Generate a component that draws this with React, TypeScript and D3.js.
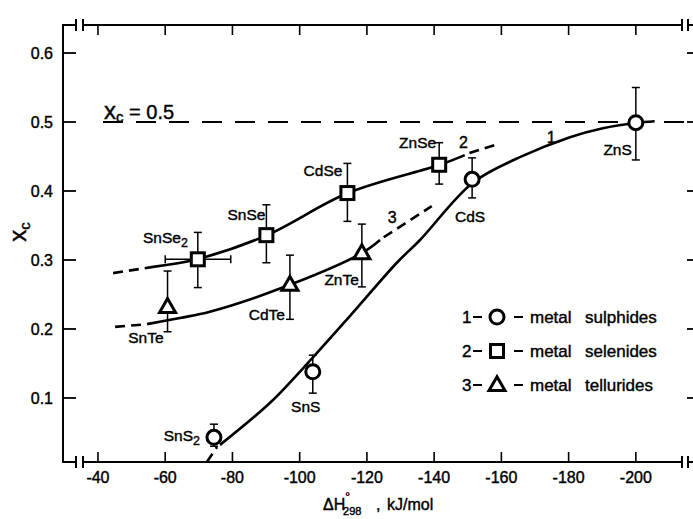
import React from "react";
import * as d3 from "d3";

// ---------- data ----------
const X_TICKS = [40, 60, 80, 100, 120, 140, 160, 180, 200];
const Y_TICKS = [0.1, 0.2, 0.3, 0.4, 0.5, 0.6];

const sulphideNames = ["SnS|2", "SnS", "CdS", "ZnS"];
const sulphideX = [74.5, 103.9, 151.3, 200];
const sulphideY = [0.043, 0.138, 0.417, 0.499];
const sulphideLo = [0.03, 0.107, 0.39, 0.445];
const sulphideHi = [0.062, 0.162, 0.448, 0.55];

const selenideNames = ["SnSe|2", "SnSe", "CdSe", "ZnSe"];
const selenideX = [69.7, 90.1, 114.2, 141.5];
const selenideY = [0.301, 0.336, 0.397, 0.438];
const selenideLo = [0.26, 0.296, 0.356, 0.41];
const selenideHi = [0.34, 0.38, 0.44, 0.47];
const selenideXLo = [60, null, null, null];
const selenideXHi = [79.5, null, null, null];

const tellurideNames = ["SnTe", "CdTe", "ZnTe"];
const tellurideX = [60.7, 97.1, 118.5];
const tellurideY = [0.232, 0.264, 0.31];
const tellurideLo = [0.196, 0.214, 0.261];
const tellurideHi = [0.284, 0.307, 0.352];

// fitted curves
const curve1Dashed: [number, number][] = [[72.4, 0.0072], [75.4, 0.029]];
const curve1Solid: [number, number][] = [
  [76.3, 0.032], [91.2, 0.093], [101.0, 0.143], [115.0, 0.219], [128.9, 0.296],
  [135.8, 0.329], [151.5, 0.412], [165.5, 0.449], [180.4, 0.478], [190.2, 0.491],
  [200, 0.4986], [205.6, 0.501],
];
const curve2DashedA: [number, number][] = [[44.5, 0.281], [56.4, 0.29]];
const curve2Solid: [number, number][] = [
  [56.4, 0.29], [69.4, 0.301], [90.3, 0.336], [114.3, 0.397], [141.7, 0.438], [149.1, 0.452],
];
const curve2DashedB: [number, number][] = [[150.5, 0.455], [159.0, 0.468]];
const curve3DashedA: [number, number][] = [[45.1, 0.203], [54.6, 0.207]];
const curve3Solid: [number, number][] = [
  [54.6, 0.207], [64.4, 0.216], [73.3, 0.225], [97.1, 0.264], [118.5, 0.31], [123.9, 0.329],
];
const curve3DashedB: [number, number][] = [[125.0, 0.333], [139.3, 0.378]];

const curveLabels = ["1", "2", "3"];
const curveLabelX = [173.5, 147.4, 126.2];
const curveLabelY = [0.4696, 0.462, 0.354];

const legendNumbers = ["1", "2", "3"];
const legendWords = [["metal", "sulphides"], ["metal", "selenides"], ["metal", "tellurides"]];

const REF_VALUE = 0.5;

// ---------- layout ----------
const W = 693;
const H = 519;
const FONT = "'Liberation Sans', Arial, sans-serif";
const TXT = { fontFamily: FONT, stroke: "black", strokeWidth: 0.4 } as any;

// label offsets (px) relative to each point: [dx, dy, anchor]
const sulphideLabelPos: [number, number, string][] = [
  [-14, 4, "end"], [-7, 40, "middle"], [-2, 43, "middle"], [-4, 32, "end"],
];
const selenideLabelPos: [number, number, string][] = [
  [-10, -16, "end"], [-1, -15, "end"], [-5, -17, "end"], [-3, -17, "end"],
];
const tellurideLabelPos: [number, number, string][] = [
  [-4, 36, "end"], [-5, 35, "end"], [-3, 32, "end"],
];

const x = d3.scaleLinear().domain([29.6, 217.3]).range([63, 694]);
const y = d3.scaleLinear().domain([0.0072, 0.6406]).range([462, 25]);

const line = d3
  .line<[number, number]>()
  .x((d) => x(d[0]))
  .y((d) => y(d[1]))
  .curve(d3.curveCatmullRom.alpha(0.5));

function Label({ text, px, py, anchor, size = 15.5 }: any) {
  const parts = text.split("|");
  return (
    <text x={px} y={py} textAnchor={anchor} fontSize={size} {...TXT}>
      {parts[0]}
      {parts[1] ? (
        <tspan fontSize={size * 0.8} dy={4}>
          {parts[1]}
        </tspan>
      ) : null}
    </text>
  );
}

function Circle({ cx, cy }: any) {
  return <circle cx={cx} cy={cy} r={7} fill="white" stroke="black" strokeWidth={3} />;
}
function Square({ cx, cy }: any) {
  return <rect x={cx - 6.5} y={cy - 6.5} width={13} height={13} fill="white" stroke="black" strokeWidth={3} />;
}
function Triangle({ cx, cy }: any) {
  const s = 16;
  const h = s * 0.866;
  const p = `${cx},${cy - h * 0.6} ${cx - s / 2},${cy + h * 0.4} ${cx + s / 2},${cy + h * 0.4}`;
  return <polygon points={p} fill="white" stroke="black" strokeWidth={3} strokeLinejoin="miter" />;
}

function VErr({ xv, lo, hi }: any) {
  const px = x(xv);
  return (
    <g stroke="black" strokeWidth={1.5}>
      <line x1={px} x2={px} y1={y(lo)} y2={y(hi)} />
      <line x1={px - 4} x2={px + 4} y1={y(lo)} y2={y(lo)} />
      <line x1={px - 4} x2={px + 4} y1={y(hi)} y2={y(hi)} />
    </g>
  );
}
function HErr({ yv, lo, hi }: any) {
  const py = y(yv);
  return (
    <g stroke="black" strokeWidth={1.5}>
      <line x1={x(lo)} x2={x(hi)} y1={py} y2={py} />
      <line x1={x(lo)} x2={x(lo)} y1={py - 4} y2={py + 4} />
      <line x1={x(hi)} x2={x(hi)} y1={py - 4} y2={py + 4} />
    </g>
  );
}

export default function App() {
  const left = x.range()[0];
  const right = 694;
  const top = y.range()[1];
  const bottom = y.range()[0];
  const brkL = [76, 83];
  const brkR = [682, 688];

  const hAxis = (yy: number, dir: number) => (
    <g stroke="black" strokeWidth={2} fill="none">
      <line x1={left} x2={brkL[0]} y1={yy} y2={yy} />
      <line x1={brkL[0]} x2={brkL[0]} y1={yy - 6} y2={yy + 6} />
      <line x1={brkL[1]} x2={brkL[1]} y1={yy - 6} y2={yy + 6} />
      <line x1={brkL[1]} x2={brkR[0]} y1={yy} y2={yy} />
      <line x1={brkR[0]} x2={brkR[0]} y1={yy - 6} y2={yy + 6} />
      <line x1={brkR[1]} x2={brkR[1]} y1={yy - 6} y2={yy + 6} />
      <line x1={brkR[1]} x2={right} y1={yy} y2={yy} />
      {X_TICKS.map((t) => (
        <line key={t} x1={x(t)} x2={x(t)} y1={yy} y2={yy + dir * 10} strokeWidth={1.6} />
      ))}
    </g>
  );

  return (
    <svg width={W} height={H} style={{ position: "absolute", left: 0, top: 0, background: "white" }}>
      <rect width={W} height={H} fill="white" />
      {/* frame */}
      <line x1={left} x2={left} y1={top - 1} y2={bottom + 1} stroke="black" strokeWidth={2} />
      {hAxis(top, 1)}
      {hAxis(bottom, -1)}
      {Y_TICKS.map((t) => (
        <g key={t}>
          <line x1={left} x2={left + 13} y1={y(t)} y2={y(t)} stroke="black" strokeWidth={1.8} />
          <line x1={687} x2={694} y1={y(t)} y2={y(t)} stroke="black" strokeWidth={1.8} />
          <text x={53} y={y(t) + 6} textAnchor="end" fontSize={16} {...TXT}>
            {t.toFixed(1)}
          </text>
        </g>
      ))}
      {X_TICKS.map((t) => (
        <text key={t} x={x(t)} y={bottom + 21} textAnchor="middle" fontSize={16} {...TXT}>
          {"-" + t}
        </text>
      ))}
      {/* axis titles */}
      <text x={323} y={510} fontSize={16} {...TXT}>
        ΔH
        <tspan fontSize={12} dy={-9}>°</tspan>
        <tspan fontSize={11} dx={-7} dy={14}>298</tspan>
      </text>
      <text x={376} y={510} fontSize={16} {...TXT}>,</text>
      <text x={387} y={510} fontSize={16} {...TXT}>kJ/mol</text>
      <text transform="translate(26,232) rotate(-90)" textAnchor="middle" fontSize={24} {...TXT}>
        x<tspan fontSize={15} dy={4}>c</tspan>
      </text>

      {/* reference line */}
      <line x1={103} x2={right} y1={y(REF_VALUE)} y2={y(REF_VALUE)} stroke="black" strokeWidth={2} strokeDasharray="20 13" />
      <text x={104} y={y(REF_VALUE) - 3} fontSize={24} {...TXT}>
        x<tspan fontSize={15} dy={3}>c</tspan>
        <tspan dy={-3} fontSize={20}>{" = 0.5"}</tspan>
      </text>

      {/* curves */}
      <g fill="none" stroke="black" strokeWidth={2.6}>
        <path d={line(curve1Dashed)!} strokeDasharray="10 6" />
        <path d={line(curve1Solid)!} />
        <path d={line(curve2DashedA)!} strokeDasharray="10 6" />
        <path d={line(curve2Solid)!} />
        <path d={line(curve2DashedB)!} strokeDasharray="10 6" />
        <path d={line(curve3DashedA)!} strokeDasharray="10 6" />
        <path d={line(curve3Solid)!} />
        <path d={line(curve3DashedB)!} strokeDasharray="10 6" />
      </g>
      {curveLabels.map((c, i) => (
        <text key={c} x={x(curveLabelX[i])} y={y(curveLabelY[i])} fontSize={16} {...TXT}>
          {c}
        </text>
      ))}

      {/* error bars */}
      {sulphideX.map((v, i) => (
        <VErr key={"se" + i} xv={v} lo={sulphideLo[i]} hi={sulphideHi[i]} />
      ))}
      {selenideX.map((v, i) => (
        <g key={"see" + i}>
          <VErr xv={v} lo={selenideLo[i]} hi={selenideHi[i]} />
          {selenideXLo[i] != null ? <HErr yv={selenideY[i]} lo={selenideXLo[i]} hi={selenideXHi[i]} /> : null}
        </g>
      ))}
      {tellurideX.map((v, i) => (
        <VErr key={"te" + i} xv={v} lo={tellurideLo[i]} hi={tellurideHi[i]} />
      ))}

      {/* markers */}
      {sulphideX.map((v, i) => (
        <Circle key={"sc" + i} cx={x(v)} cy={y(sulphideY[i])} />
      ))}
      {selenideX.map((v, i) => (
        <Square key={"ss" + i} cx={x(v)} cy={y(selenideY[i])} />
      ))}
      {tellurideX.map((v, i) => (
        <Triangle key={"tt" + i} cx={x(v)} cy={y(tellurideY[i])} />
      ))}

      {/* point labels */}
      {sulphideNames.map((n, i) => (
        <Label key={n} text={n} px={x(sulphideX[i]) + sulphideLabelPos[i][0]} py={y(sulphideY[i]) + sulphideLabelPos[i][1]} anchor={sulphideLabelPos[i][2]} />
      ))}
      {selenideNames.map((n, i) => (
        <Label key={n} text={n} px={x(selenideX[i]) + selenideLabelPos[i][0]} py={y(selenideY[i]) + selenideLabelPos[i][1]} anchor={selenideLabelPos[i][2]} />
      ))}
      {tellurideNames.map((n, i) => (
        <Label key={n} text={n} px={x(tellurideX[i]) + tellurideLabelPos[i][0]} py={y(tellurideY[i]) + tellurideLabelPos[i][1]} anchor={tellurideLabelPos[i][2]} />
      ))}

      {/* legend */}
      {legendNumbers.map((n, i) => {
        const cy = 317 + i * 34;
        return (
          <g key={n}>
            <text x={462} y={cy + 6} fontSize={17} {...TXT}>{n}</text>
            <line x1={473} x2={482} y1={cy} y2={cy} stroke="black" strokeWidth={2} />
            {i === 0 ? <Circle cx={497} cy={cy} /> : i === 1 ? <Square cx={497} cy={cy} /> : <Triangle cx={497} cy={cy} />}
            <line x1={514} x2={523} y1={cy} y2={cy} stroke="black" strokeWidth={2} />
            <text x={530} y={cy + 6} fontSize={17} {...TXT}>{legendWords[i][0]}</text>
            <text x={585} y={cy + 6} fontSize={17} {...TXT}>{legendWords[i][1]}</text>
          </g>
        );
      })}
    </svg>
  );
}
